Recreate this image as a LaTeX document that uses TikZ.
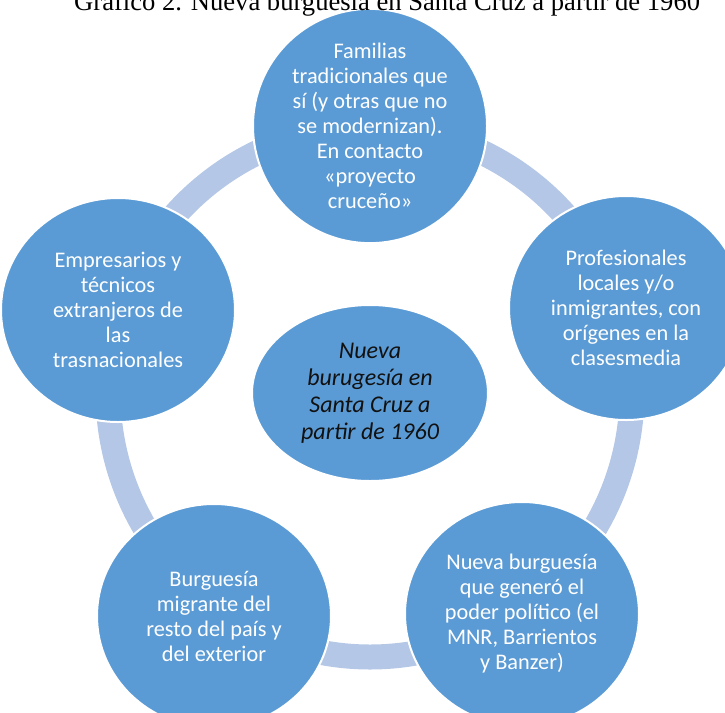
\documentclass[tikz,border=0pt]{standalone}
\usepackage{fontspec}
\usetikzlibrary{shapes.geometric}
\newfontfamily\carl{Carlito}
\newfontfamily\titlefnt{Liberation Serif}
\definecolor{nodeblue}{HTML}{5B9BD5}
\definecolor{ringblue}{HTML}{B4C7E7}
\definecolor{darktext}{HTML}{111111}
\tikzset{
  x=1pt, y=-1pt,
  ringline/.style={draw=ringblue, line width=25pt},
  bubble/.style={ellipse, fill=nodeblue, draw=white, line width=2pt,
    minimum width=234pt, minimum height=224pt, inner sep=0pt,
    text=white, align=center, font=\carl\fontsize{22.3}{25}\selectfont},
  hub/.style={ellipse, fill=nodeblue, draw=white, line width=2pt,
    minimum width=236pt, minimum height=176pt, inner sep=0pt,
    text=darktext, align=center, font=\carl\itshape\fontsize{24}{27}\selectfont},
  titlestyle/.style={anchor=base west, inner sep=0pt, font=\titlefnt\fontsize{26.6}{30}\selectfont}
}
\begin{document}
\begin{tikzpicture}
\useasboundingbox (0,0) rectangle (725,712);
\clip (0,0) rectangle (725,712);
\coordinate (ringc) at (370,392);
\draw[ringline] (ringc) ellipse [x radius=262pt, y radius=265pt];
\node[bubble] (t) at (370,126) {Familias\\tradicionales que\\sí (y otras que no\\se modernizan).\\En contacto\\«proyecto\\cruceño»};
\node[bubble] (r) at (626,308) {Profesionales\\locales y/o\\inmigrantes, con\\orígenes en la\\clasesmedia};
\node[bubble] (br) at (522,614) {Nueva burguesía\\que generó el\\poder político (el\\MNR, Barrientos\\y Banzer)};
\node[bubble] (bl) at (214,616) {Burguesía\\migrante del\\resto del país y\\del exterior};
\node[bubble] (l) at (118,310) {Empresarios y\\técnicos\\extranjeros de\\las\\trasnacionales};
\node[hub] (c) at (370,393) {Nueva\\burugesía en\\Santa Cruz a\\partir de 1960};
\node[titlestyle] (title) at (74,10) {Gráfico 2. Nueva burguesía en Santa Cruz a partir de 1960};
\end{tikzpicture}
\end{document}
